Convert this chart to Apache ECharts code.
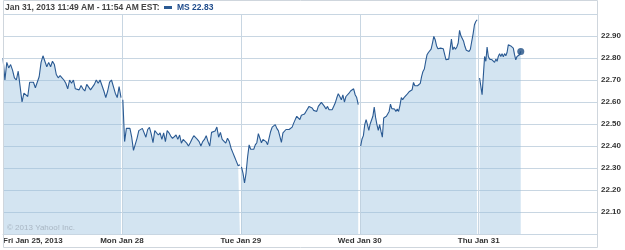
<!DOCTYPE html>
<html><head><meta charset="utf-8">
<script src="https://cdn.jsdelivr.net/npm/echarts@6/dist/echarts.min.js"></script>
<style>html,body{margin:0;padding:0;background:#fff}#c{width:625px;height:250px}</style>
</head><body><div id="c"></div>
<script>
// ---- data ----
const headerText = 'Jan 31, 2013 11:49 AM - 11:54 AM EST:';
const symbolName = 'MS';
const lastPrice = 22.83;
const dayLabels = ['Fri Jan 25, 2013', 'Mon Jan 28', 'Tue Jan 29', 'Wed Jan 30', 'Thu Jan 31'];
const minutesPerDay = 390;
// first / last minute after the open covered by each day's prices
const firstMinute = [0, 3, 2, 3, 3];
const lastMinute = [387, 387, 385, 385, 138];

const fri = [22.80,22.70,22.78,22.755,22.77,22.745,22.71,22.70,22.74,22.67,22.60,22.64,22.635,22.625,22.69,22.685,22.69,22.665,22.66,22.715,22.78,22.81,22.81,22.76,22.78,22.76,22.785,22.77,22.725,22.71,22.72,22.71,22.70,22.685,22.66,22.70,22.685,22.70,22.66,22.66,22.655,22.675,22.66,22.65,22.68,22.685,22.655,22.66,22.68,22.70,22.685,22.70,22.675,22.65,22.62,22.65,22.69,22.70,22.695,22.64,22.62,22.67,22.62];
const mon = [22.61,22.42,22.48,22.485,22.48,22.44,22.38,22.385,22.435,22.47,22.465,22.48,22.485,22.44,22.475,22.485,22.455,22.415,22.47,22.475,22.45,22.46,22.43,22.46,22.42,22.47,22.46,22.445,22.435,22.43,22.45,22.43,22.45,22.413,22.43,22.432,22.413,22.40,22.415,22.432,22.447,22.45,22.43,22.42,22.40,22.42,22.43,22.447,22.42,22.40,22.462,22.47,22.468,22.486,22.44,22.462,22.43,22.425,22.413,22.435,22.42,22.39,22.37,22.35,22.33,22.31,22.315];
const tue = [22.305,22.277,22.232,22.277,22.35,22.405,22.385,22.38,22.385,22.405,22.415,22.456,22.447,22.415,22.43,22.43,22.42,22.406,22.40,22.466,22.486,22.48,22.497,22.48,22.47,22.444,22.416,22.46,22.465,22.475,22.47,22.475,22.48,22.486,22.504,22.52,22.535,22.53,22.52,22.54,22.547,22.545,22.557,22.56,22.58,22.573,22.573,22.562,22.568,22.557,22.58,22.588,22.598,22.595,22.58,22.568,22.58,22.565,22.557,22.565,22.58,22.595,22.618,22.638,22.625,22.61,22.632,22.60,22.625,22.62,22.64,22.65,22.653,22.66,22.633,22.62,22.588];
const wed = [22.40,22.432,22.447,22.497,22.52,22.497,22.471,22.50,22.497,22.535,22.577,22.53,22.497,22.471,22.497,22.466,22.44,22.527,22.52,22.535,22.537,22.557,22.59,22.57,22.565,22.568,22.557,22.568,22.557,22.585,22.62,22.61,22.62,22.629,22.633,22.629,22.648,22.64,22.656,22.689,22.674,22.68,22.674,22.668,22.685,22.716,22.739,22.75,22.785,22.815,22.825,22.825,22.84,22.868,22.898,22.883,22.856,22.842,22.842,22.845,22.842,22.842,22.838,22.792,22.792,22.795,22.84,22.886,22.838,22.85,22.84,22.85,22.868,22.926,22.901,22.905,22.876,22.852,22.835,22.835,22.83,22.84,22.876,22.91,22.951,22.966,22.974];
const thu = [22.709,22.70,22.633,22.72,22.807,22.785,22.85,22.807,22.795,22.80,22.792,22.79,22.78,22.795,22.785,22.807,22.82,22.807,22.82,22.805,22.82,22.81,22.825,22.86,22.865,22.855,22.86,22.845,22.815,22.792,22.807,22.815,22.815,22.83];
const days = [fri, mon, tue, wed, thu];

// ---- chart ----
const LINE = '#2a5a93';
const GRID = '#c8d6e2';
const FONT = "'Liberation Sans', Arial, sans-serif";

function dayData(d) {
  const v = days[d], n = v.length;
  const step = (lastMinute[d] - firstMinute[d]) / (n - 1);
  return v.map((p, i) => [d * minutesPerDay + firstMinute[d] + i * step, p]);
}

const series = days.map((_, d) => ({
  name: symbolName, type: 'line', data: dayData(d),
  showSymbol: false, symbol: 'none', smooth: false,
  lineStyle: { color: LINE, width: 1.1 },
  itemStyle: { color: LINE },
  areaStyle: { color: 'rgba(150,190,222,0.42)', opacity: 1, origin: 'start' },
  z: 3
}));
const lastDay = dayData(4);
series.push({
  name: symbolName, type: 'scatter', data: [lastDay[lastDay.length - 1]],
  symbol: 'circle', symbolSize: 7, itemStyle: { color: '#1f4f85' }, z: 5
});

const chart = echarts.init(document.getElementById('c'), null, { renderer: 'canvas' });
chart.setOption({
  animation: false,
  backgroundColor: '#fff',
  title: {
    text: headerText, left: 5, top: 3, padding: 0,
    textStyle: { fontFamily: FONT, fontSize: 8.5, fontWeight: 'bold', color: '#444' }
  },
  legend: {
    data: [{ name: symbolName, icon: 'rect' }],
    left: 164, top: 3, padding: 0, itemWidth: 8, itemHeight: 3,
    formatter: n => n + ' ' + lastPrice.toFixed(2),
    textStyle: { fontFamily: FONT, fontSize: 8.5, fontWeight: 'bold', color: '#1f4c8c' },
    selectedMode: false
  },
  grid: { left: 3, right: 28, top: 14, bottom: 16, containLabel: false },
  xAxis: {
    type: 'value', min: 0, max: 1948, interval: minutesPerDay,
    axisLine: { show: true, lineStyle: { color: GRID } },
    axisTick: { show: false },
    splitLine: { show: true, lineStyle: { color: GRID, width: 1 } },
    axisLabel: {
      margin: 3, fontFamily: FONT, fontSize: 8, fontWeight: 'bold', color: '#333',
      alignMinLabel: 'left', showMaxLabel: false,
      formatter: v => (v % minutesPerDay === 0 ? (dayLabels[v / minutesPerDay] || '') : '')
    }
  },
  yAxis: {
    type: 'value', position: 'right', min: 22, max: 23, interval: 0.1,
    axisLine: { show: false }, axisTick: { show: false },
    splitLine: { show: true, lineStyle: { color: GRID, width: 1 } },
    axisLabel: {
      margin: 4, fontFamily: FONT, fontSize: 8, fontWeight: 'bold', color: '#333',
      showMinLabel: false, showMaxLabel: false,
      formatter: v => v.toFixed(2)
    }
  },
  graphic: [
    { type: 'rect', shape: { x: 3.5, y: 0.5, width: 594, height: 247 },
      style: { fill: null, stroke: '#cfd6dd', lineWidth: 1 }, z: 10, silent: true },
    { type: 'text', left: 7, top: 224,
      style: { text: '\u00a9 2013 Yahoo! Inc.', fill: '#a9b6c3', font: "8px 'Liberation Sans', Arial, sans-serif" },
      z: 10, silent: true }
  ],
  series: series
});
</script>
</body></html>
